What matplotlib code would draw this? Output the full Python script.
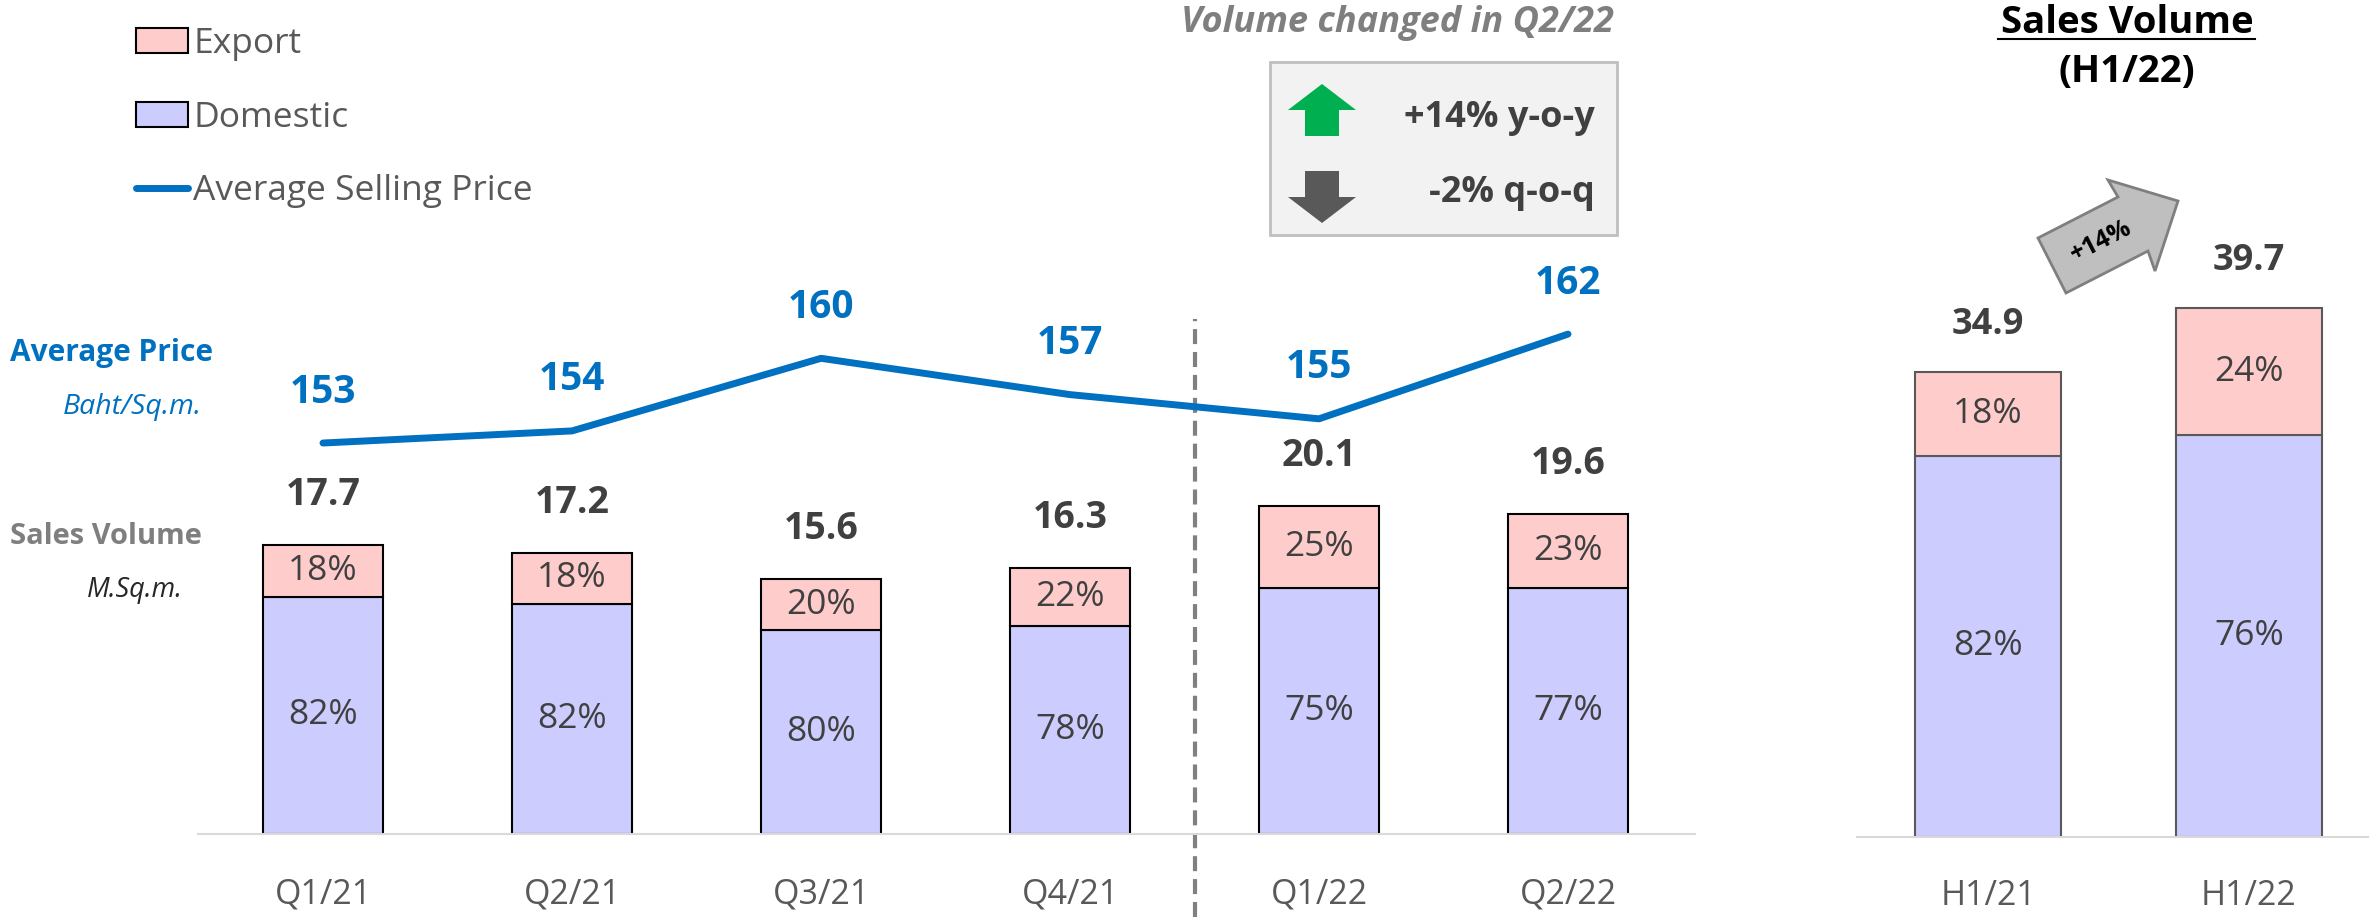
#!/usr/bin/env python3

import matplotlib
matplotlib.use('Agg')
import matplotlib.pyplot as plt
import matplotlib.patches as mpatches
from matplotlib.lines import Line2D

# quarterly sales volume (M.Sq.m.) and split
quarters = ['Q1/21', 'Q2/21', 'Q3/21', 'Q4/21', 'Q1/22', 'Q2/22']
volume = [17.7, 17.2, 15.6, 16.3, 20.1, 19.6]
domestic_pct = [82, 82, 80, 78, 75, 77]
export_pct = [18, 18, 20, 22, 25, 23]
avg_price = [153, 154, 160, 157, 155, 162]

# half year totals
halves = ['H1/21', 'H1/22']
half_volume = [34.9, 39.7]
half_domestic_pct = [82, 76]
half_export_pct = [18, 24]

W, H = 2369, 923

PINK = '#FFCCCC'
LILAC = '#CCCCFF'
BLUE = '#0070C0'
DARK = '#404040'
GREY = '#595959'

plt.rcParams['font.family'] = ['Open Sans', 'DejaVu Sans']


def fx(px):
	return px / W

def fy(py):
	return 1 - py / H

def rect(left, top, right, bottom):
	return [fx(left), fy(bottom), (right - left) / W, (bottom - top) / H]

def poly(points, **kw):
	return mpatches.Polygon([(fx(x), fy(y)) for x, y in points], closed=True, transform=fig.transFigure, **kw)


def stacked(ax, labels, totals, dom_pct, exp_pct, width, edge, total_offset, total_size, pad):

	x = list(range(len(labels)))
	dom = [t * p / 100.0 for t, p in zip(totals, dom_pct)]
	exp = [t - d for t, d in zip(totals, dom)]

	ax.bar(x, dom, width, color=LILAC, edgecolor=edge, linewidth=1.5)
	ax.bar(x, exp, width, bottom=dom, color=PINK, edgecolor=edge, linewidth=1.5)

	for i in x:
		ax.text(i, dom[i] / 2, '%d%%' % dom_pct[i], ha='center', va='center', fontsize=25.5, color=DARK)
		ax.text(i, dom[i] + exp[i] / 2, '%d%%' % exp_pct[i], ha='center', va='center', fontsize=25.5, color=DARK)
		ax.annotate('%.1f' % totals[i], (i, totals[i]), xytext=(0, total_offset), textcoords='offset points',
			ha='center', va='center', fontsize=total_size, fontweight='bold', color=DARK)

	ax.set_xticks(x, labels)
	ax.tick_params(axis='x', length=0, pad=pad, labelsize=24.5, labelcolor=GREY)
	ax.set_yticks([])
	for side in ['top', 'left', 'right']:
		ax.spines[side].set_visible(False)
	ax.spines['bottom'].set_color('#D9D9D9')
	ax.spines['bottom'].set_linewidth(1.5)
	ax.patch.set_alpha(0)


fig = plt.figure(figsize=(W / 100, H / 100), dpi=100)

# main quarterly chart
ax = fig.add_axes(rect(198, 0, 1695, 834))
ax.set_xlim(-0.502, 5.510)
ax.set_ylim(0, 51.07)
stacked(ax, quarters, volume, domestic_pct, export_pct, 0.482, 'black', 36, 27, 31.5)

ax.axvline(3.5, ymin=-0.0995, ymax=0.6175, color='#808080', lw=3, dashes=(3.6, 1.9), clip_on=False)

ax2 = ax.twinx()
ax2.set_ylim(120.69, 189.61)
ax2.plot(range(len(avg_price)), avg_price, color=BLUE, lw=5, solid_capstyle='round')
for i, p in enumerate(avg_price):
	ax2.annotate('%d' % p, (i, p), xytext=(0, 36.7), textcoords='offset points',
		ha='center', va='center', fontsize=28, fontweight='bold', color=BLUE)
ax2.set_yticks([])
for side in ['top', 'left', 'right', 'bottom']:
	ax2.spines[side].set_visible(False)

# half year chart
axh = fig.add_axes(rect(1857, 0, 2369, 837))
axh.set_xlim(-0.502, 1.460)
axh.set_ylim(0, 62.84)
stacked(axh, halves, half_volume, half_domestic_pct, half_export_pct, 0.559, '#595959', 34, 26, 30.5)

# legend
handles = [
	mpatches.Patch(facecolor=PINK, edgecolor='black', linewidth=1.5, label='Export'),
	mpatches.Patch(facecolor=LILAC, edgecolor='black', linewidth=1.5, label='Domestic'),
	Line2D([], [], color=BLUE, lw=5, solid_capstyle='round', label='Average Selling Price'),
]
fig.legend(handles=handles, loc='upper left', bbox_to_anchor=(fx(136), fy(27)), frameon=False,
	fontsize=25.5, handlelength=1.47, handleheight=0.73, handletextpad=0.14, labelspacing=1.12,
	borderpad=0, borderaxespad=0, labelcolor=GREY)

# axis captions on the left
fig.text(fx(10), fy(353), 'Average Price', ha='left', va='center', fontsize=21.5, fontweight='bold', color=BLUE)
fig.text(fx(202), fy(407), 'Baht/Sq.m.', ha='right', va='center', fontsize=20.5, style='italic', color=BLUE)
fig.text(fx(10), fy(536), 'Sales Volume', ha='left', va='center', fontsize=21, fontweight='bold', color='#7F7F7F')
fig.text(fx(183), fy(590), 'M.Sq.m.', ha='right', va='center', fontsize=19.5, style='italic', color='#262626')

# volume change box
fig.text(fx(1397), fy(23), 'Volume changed in Q2/22', ha='center', va='center', fontsize=26,
	fontweight='bold', style='italic', color='#7F7F7F')
fig.add_artist(mpatches.Rectangle((fx(1270), fy(235)), (1617 - 1270) / W, (235 - 62) / H,
	transform=fig.transFigure, facecolor='#F2F2F2', edgecolor='#BFBFBF', linewidth=2))
fig.add_artist(poly([(1305, 136), (1305, 110), (1288, 110), (1322, 84), (1356, 110), (1339, 110), (1339, 136)],
	facecolor='#00B050', edgecolor='none'))
fig.add_artist(poly([(1305, 171), (1339, 171), (1339, 197), (1356, 197), (1322, 223), (1288, 197), (1305, 197)],
	facecolor='#595959', edgecolor='none'))
fig.text(fx(1595), fy(118), '+14% y-o-y', ha='right', va='center', fontsize=26, fontweight='bold', color=DARK)
fig.text(fx(1595), fy(193), '-2% q-o-q', ha='right', va='center', fontsize=26, fontweight='bold', color=DARK)

# half year title and growth arrow
fig.text(fx(2127), fy(23), 'Sales Volume', ha='center', va='center', fontsize=27.5, fontweight='bold', color='black')
fig.text(fx(2127), fy(72), '(H1/22)', ha='center', va='center', fontsize=27.5, fontweight='bold', color='black')
fig.add_artist(Line2D([fx(1998), fx(2255)], [fy(39), fy(39)], transform=fig.transFigure, color='black', lw=1.5))

fig.add_artist(poly([(2066, 293), (2038, 238), (2118, 197), (2108, 180), (2178, 201), (2155, 271), (2148, 251)],
	facecolor='#BFBFBF', edgecolor='#7F7F7F', linewidth=2))
fig.text(fx(2101), fy(241), '+14%', ha='center', va='center', rotation=27, rotation_mode='anchor',
	fontsize=18, fontweight='bold', color='black')

fig.savefig('out.png', dpi=100)
